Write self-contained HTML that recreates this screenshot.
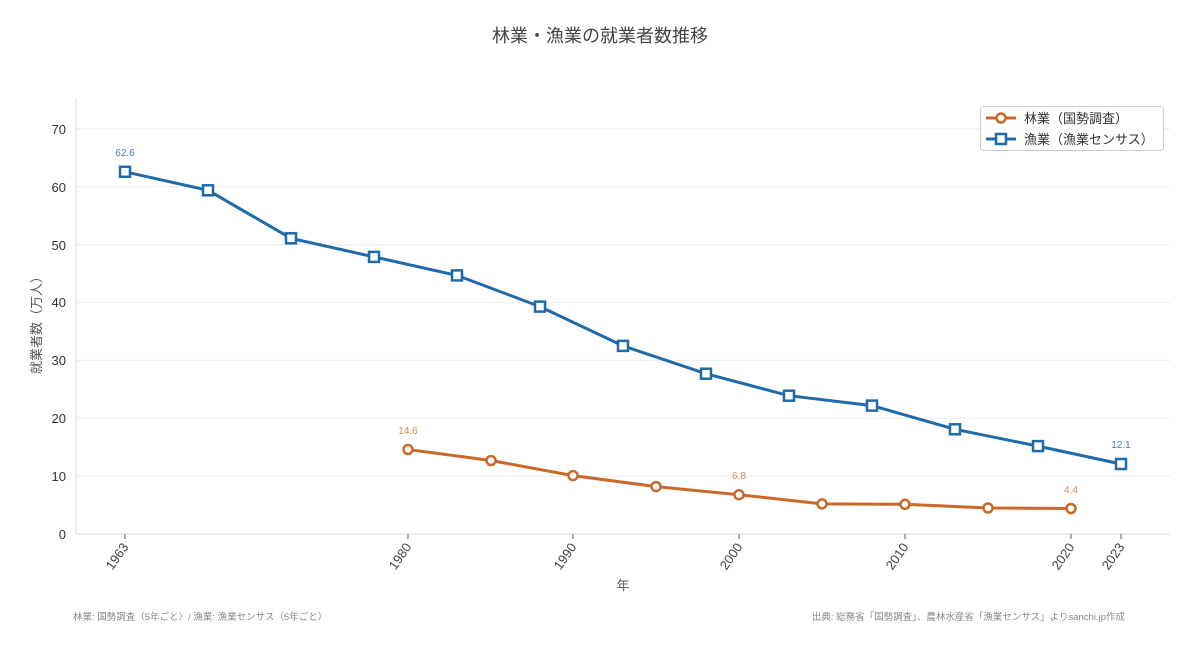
<!DOCTYPE html>
<html><head><meta charset="utf-8"><style>
body{margin:0;background:#fff}
svg{display:block;font-family:"Liberation Sans","Noto Sans CJK JP",sans-serif}
</style></head><body>
<svg width="1200" height="649" viewBox="0 0 1200 649" xmlns="http://www.w3.org/2000/svg">
<rect width="1200" height="649" fill="#fff"/>
<text x="600" y="42" text-anchor="middle" font-size="18" fill="#444">林業・漁業の就業者数推移</text>
<g stroke="#ebebeb" stroke-width="1">
<line x1="76" x2="1170" y1="476.1" y2="476.1"/>
<line x1="76" x2="1170" y1="418.3" y2="418.3"/>
<line x1="76" x2="1170" y1="360.4" y2="360.4"/>
<line x1="76" x2="1170" y1="302.6" y2="302.6"/>
<line x1="76" x2="1170" y1="244.7" y2="244.7"/>
<line x1="76" x2="1170" y1="186.8" y2="186.8"/>
<line x1="76" x2="1170" y1="129" y2="129"/>
</g>
<line x1="76" x2="76" y1="98" y2="534" stroke="#ddd"/>
<line x1="76" x2="1170" y1="534" y2="534" stroke="#ddd"/>
<g font-size="13" fill="#333" text-anchor="end">
<text x="66" y="539">0</text><text x="66" y="481">10</text><text x="66" y="423">20</text><text x="66" y="365">30</text><text x="66" y="307">40</text><text x="66" y="250">50</text><text x="66" y="192">60</text><text x="66" y="134">70</text>
</g>
<g stroke="#555"><line x1="125" x2="125" y1="534" y2="539"/><line x1="408" x2="408" y1="534" y2="539"/><line x1="573" x2="573" y1="534" y2="539"/><line x1="739" x2="739" y1="534" y2="539"/><line x1="905" x2="905" y1="534" y2="539"/><line x1="1071" x2="1071" y1="534" y2="539"/><line x1="1121" x2="1121" y1="534" y2="539"/></g>
<g font-size="13" fill="#444" text-anchor="end">
<text transform="translate(129,547) rotate(-55)">1963</text>
<text transform="translate(412,547) rotate(-55)">1980</text>
<text transform="translate(577,547) rotate(-55)">1990</text>
<text transform="translate(743,547) rotate(-55)">2000</text>
<text transform="translate(909,547) rotate(-55)">2010</text>
<text transform="translate(1075,547) rotate(-55)">2020</text>
<text transform="translate(1125,547) rotate(-55)">2023</text>
</g>
<text x="623" y="590" text-anchor="middle" font-size="13" fill="#555">年</text>
<text transform="translate(41,322) rotate(-90)" text-anchor="middle" font-size="13" fill="#555">就業者数（万人）</text>
<polyline fill="none" stroke="#1f6aa8" stroke-width="3" points="125,171.8 208,190.3 291,238.3 374,256.9 457,275.4 540,306.6 623,345.9 706,373.7 789,395.7 872,405.6 955,429.3 1038,446.1 1121,464"/>
<g fill="#fff" stroke="#1f6aa8" stroke-width="2.5">
<rect x="120" y="166.8" width="10" height="10"/><rect x="203" y="185.3" width="10" height="10"/><rect x="286" y="233.3" width="10" height="10"/><rect x="369" y="251.9" width="10" height="10"/><rect x="452" y="270.4" width="10" height="10"/><rect x="535" y="301.6" width="10" height="10"/><rect x="618" y="340.9" width="10" height="10"/><rect x="701" y="368.7" width="10" height="10"/><rect x="784" y="390.7" width="10" height="10"/><rect x="867" y="400.6" width="10" height="10"/><rect x="950" y="424.3" width="10" height="10"/><rect x="1033" y="441.1" width="10" height="10"/><rect x="1116" y="459" width="10" height="10"/>
</g>
<polyline fill="none" stroke="#c8692a" stroke-width="3" points="408,449.5 491,460.5 573,475.6 656,486.6 739,494.7 822,503.9 905,504.3 988,508 1071,508.5"/>
<g fill="#fff" stroke="#c8692a" stroke-width="2.5">
<circle cx="408" cy="449.5" r="4.5"/><circle cx="491" cy="460.5" r="4.5"/><circle cx="573" cy="475.6" r="4.5"/><circle cx="656" cy="486.6" r="4.5"/><circle cx="739" cy="494.7" r="4.5"/><circle cx="822" cy="503.9" r="4.5"/><circle cx="905" cy="504.3" r="4.5"/><circle cx="988" cy="508" r="4.5"/><circle cx="1071" cy="508.5" r="4.5"/>
</g>
<g font-size="10" text-anchor="middle">
<text x="125" y="156" fill="#4a78a8">62.6</text>
<text x="1121" y="448" fill="#4a78a8">12.1</text>
<text x="408" y="434" fill="#d98a4a">14.6</text>
<text x="739" y="479" fill="#d98a4a">6.8</text>
<text x="1071" y="493" fill="#d98a4a">4.4</text>
</g>
<rect x="980.5" y="106.5" width="183" height="44" rx="3" fill="#fff" stroke="#ccc"/>
<line x1="986" x2="1016" y1="118" y2="118" stroke="#c8692a" stroke-width="3"/>
<circle cx="1001" cy="118" r="4.5" fill="#fff" stroke="#c8692a" stroke-width="2.5"/>
<line x1="986" x2="1016" y1="139" y2="139" stroke="#1f6aa8" stroke-width="3"/>
<rect x="996" y="134" width="10" height="10" fill="#fff" stroke="#1f6aa8" stroke-width="2.5"/>
<text x="1024" y="123" font-size="13" fill="#333">林業（国勢調査）</text>
<text x="1024" y="144" font-size="13" fill="#333">漁業（漁業センサス）</text>
<text x="73" y="620" font-size="9.5" fill="#888">林業: 国勢調査（5年ごと）/ 漁業: 漁業センサス（5年ごと）</text>
<text x="1125" y="620" font-size="9.5" fill="#888" text-anchor="end">出典: 総務省「国勢調査」、農林水産省「漁業センサス」よりsanchi.jp作成</text>
</svg>
</body></html>
